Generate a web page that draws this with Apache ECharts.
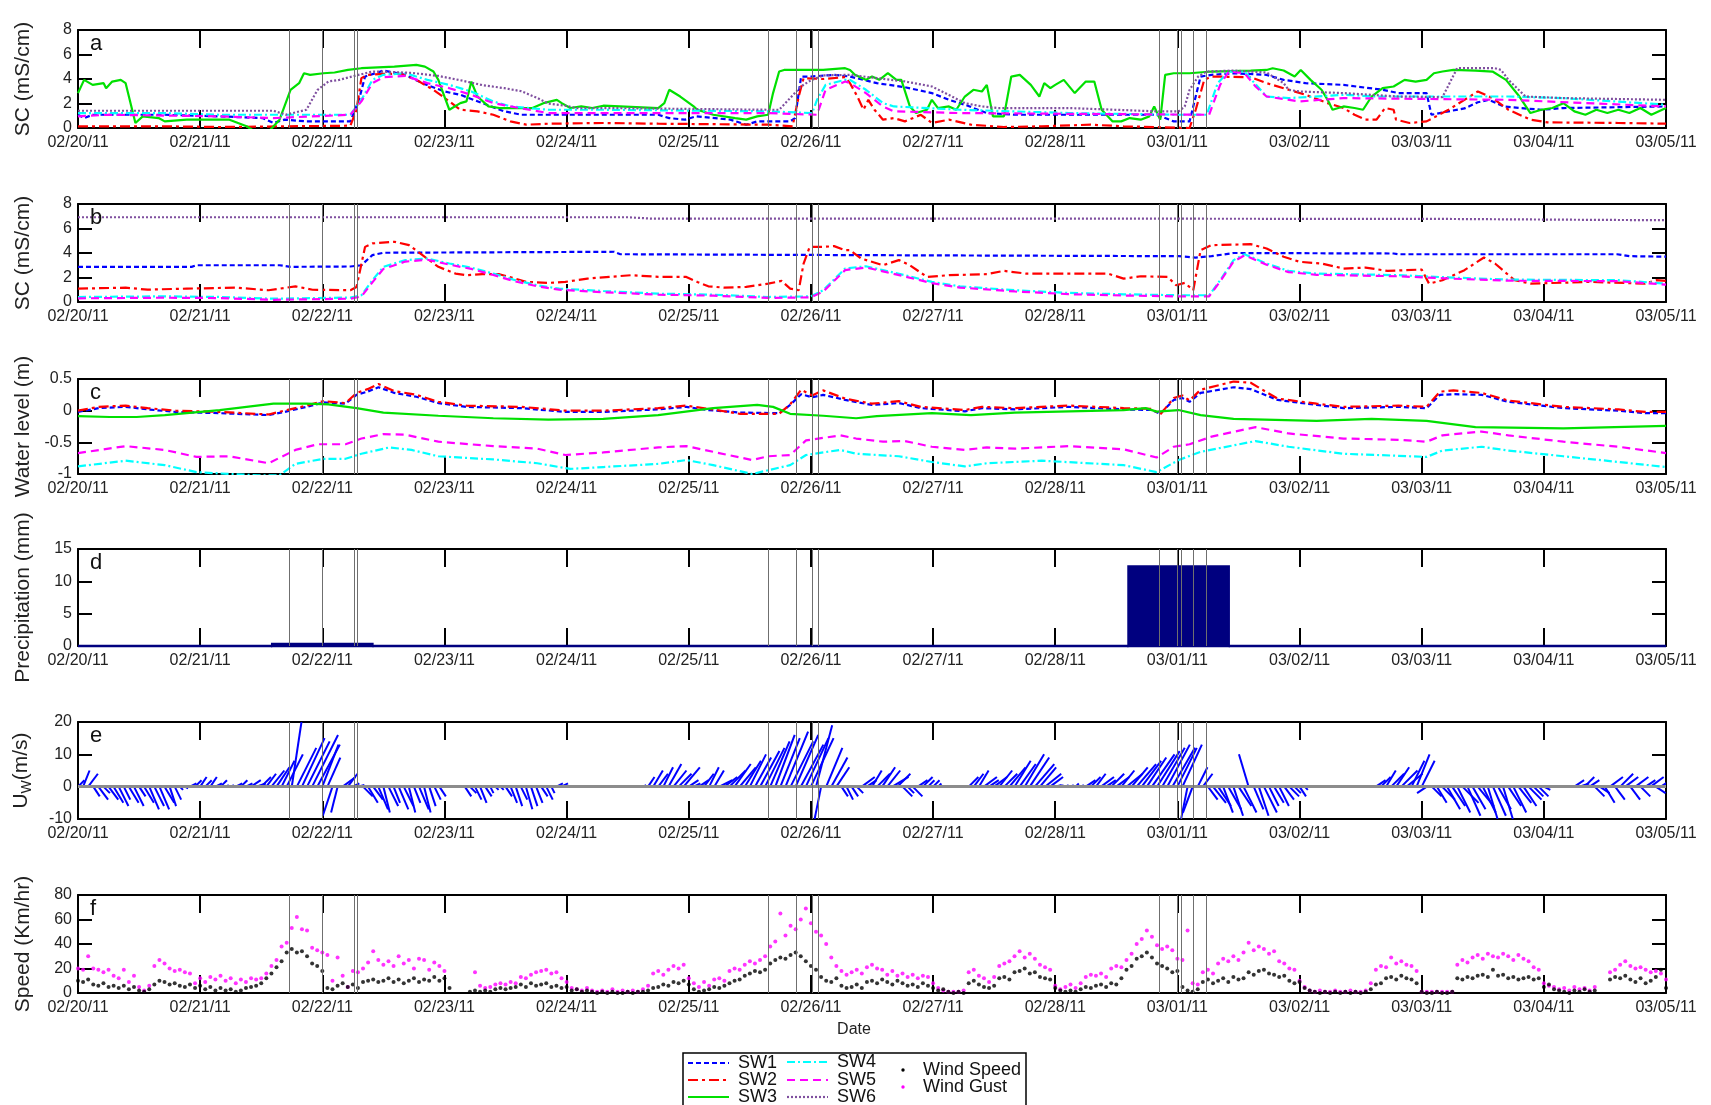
<!DOCTYPE html>
<html><head><meta charset="utf-8">
<script src="https://cdn.jsdelivr.net/npm/echarts@6/dist/echarts.min.js"></script>
<style>html,body{margin:0;padding:0;background:#fff}#c{width:1711px;height:1105px}</style>
</head><body><div id="c"></div>
<script>
// ---------- tick labels / categories ----------
const dateLabels = ['02/20/11','02/21/11','02/22/11','02/23/11','02/24/11','02/25/11','02/26/11','02/27/11','02/28/11','03/01/11','03/02/11','03/03/11','03/04/11','03/05/11'];
// event lines (days after 02/20/11 00:00)
const eventDays = [1.726,2.0,2.256,2.288,5.649,5.883,6.009,6.063,8.847,9.0,9.03,9.135,9.243];

// ---------- panel a: SC (mS/cm) ----------
const aSW1 = [[0,1.08],[0.05,0.81],[0.12,1.08],[0.71,1.08],[1.16,0.95],[1.51,0.81],[1.6,0.41],[1.69,0.68],[1.87,0.54],[2.23,0.54],[2.3,2.3],[2.35,4.2],[2.5,4.69],[2.68,4.34],[2.82,3.66],[3.0,2.98],[3.13,2.71],[3.31,2.03],[3.49,1.36],[3.63,1.08],[4.75,1.08],[4.84,0.81],[4.97,0.68],[5.06,0.95],[5.34,0.68],[5.47,0.27],[5.56,0.54],[5.83,0.54],[5.87,0.81],[5.92,4.2],[6.0,4.2],[6.19,4.34],[6.32,4.2],[6.54,3.66],[6.77,3.33],[6.99,2.85],[7.13,2.3],[7.26,1.9],[7.44,1.22],[7.67,1.08],[8.83,1.08],[8.97,0.54],[9.1,0.54],[9.19,4.2],[9.28,4.34],[9.46,4.47],[9.73,4.34],[9.87,3.93],[10.05,3.66],[10.36,3.52],[10.68,3.12],[10.81,2.85],[11.04,2.85],[11.08,1.08],[11.22,1.36],[11.35,1.6],[11.46,2.1],[11.55,2.3],[11.67,1.76],[11.8,1.63],[11.98,1.49],[12.16,1.63],[13,1.76]];
const aSW2 = [[0,0.14],[0.71,0.14],[1.16,0.08],[2.23,0.19],[2.28,1.49],[2.32,4.07],[2.37,4.34],[2.5,4.42],[2.64,4.42],[2.77,3.93],[2.91,3.12],[3.04,2.17],[3.13,1.49],[3.27,1.36],[3.4,1.08],[3.54,0.54],[3.67,0.27],[3.85,0.35],[4.3,0.41],[4.75,0.35],[5.65,0.27],[5.85,0.14],[5.9,2.57],[5.94,4.07],[6.1,4.0],[6.28,4.15],[6.32,3.66],[6.38,2.57],[6.43,1.49],[6.47,2.3],[6.52,1.49],[6.59,0.68],[6.68,0.81],[6.77,0.54],[6.9,1.08],[6.99,0.41],[7.13,0.68],[7.31,0.27],[7.58,0.08],[7.89,0.14],[8.29,0.27],[8.56,0.14],[9.1,0.0],[9.15,1.49],[9.22,3.93],[9.28,4.2],[9.6,4.15],[9.73,3.66],[9.87,3.25],[10.05,2.71],[10.23,2.03],[10.36,1.63],[10.45,1.08],[10.54,0.68],[10.63,0.68],[10.7,1.63],[10.77,1.49],[10.79,0.68],[10.9,0.41],[11.04,0.54],[11.22,1.49],[11.35,2.3],[11.46,2.98],[11.58,2.44],[11.71,1.49],[11.89,0.68],[12.03,0.46],[12.61,0.41],[13,0.35]];
const aSW3 = [[0,2.85],[0.05,3.93],[0.12,3.52],[0.21,3.66],[0.23,3.25],[0.28,3.79],[0.35,3.93],[0.39,3.66],[0.47,0.41],[0.53,0.95],[0.66,0.81],[0.71,0.54],[0.89,0.68],[1.24,0.68],[1.38,0.14],[1.45,-0.3],[1.56,-0.3],[1.65,0.68],[1.74,3.12],[1.81,3.66],[1.85,4.47],[1.9,4.34],[2.01,4.47],[2.1,4.53],[2.21,4.74],[2.32,4.88],[2.59,5.01],[2.77,5.15],[2.84,5.01],[2.91,4.61],[2.95,3.93],[3.0,2.57],[3.04,1.49],[3.13,2.03],[3.18,2.17],[3.22,3.79],[3.27,2.57],[3.36,1.76],[3.45,1.63],[3.72,1.63],[3.81,2.03],[3.92,2.3],[3.96,2.03],[4.03,1.63],[4.12,1.76],[4.21,1.63],[4.3,1.82],[4.75,1.63],[4.8,2.03],[4.84,3.12],[4.93,2.57],[5.04,1.76],[5.07,1.49],[5.2,1.08],[5.38,0.81],[5.47,0.68],[5.56,0.95],[5.65,1.08],[5.69,2.85],[5.74,4.61],[5.78,4.74],[6.1,4.74],[6.28,4.88],[6.32,4.74],[6.36,4.34],[6.45,3.93],[6.5,4.2],[6.56,3.93],[6.63,4.47],[6.7,3.93],[6.74,3.93],[6.81,1.76],[6.86,1.22],[6.95,1.49],[6.99,2.3],[7.04,1.63],[7.13,1.76],[7.19,1.49],[7.26,2.57],[7.33,3.12],[7.4,2.98],[7.44,3.52],[7.49,0.95],[7.58,0.95],[7.64,4.2],[7.71,4.34],[7.8,3.52],[7.87,2.57],[7.91,3.66],[7.96,3.25],[8.0,3.52],[8.07,3.93],[8.16,2.85],[8.25,3.79],[8.32,3.79],[8.38,1.49],[8.47,0.54],[8.54,0.54],[8.61,0.81],[8.7,0.68],[8.77,0.95],[8.81,1.76],[8.86,0.68],[8.9,4.34],[8.97,4.47],[9.1,4.47],[9.28,4.61],[9.6,4.69],[9.73,4.74],[9.78,4.88],[9.87,4.69],[9.96,4.2],[10.01,4.74],[10.09,3.93],[10.18,3.12],[10.23,2.3],[10.27,1.49],[10.36,1.76],[10.45,1.63],[10.52,1.49],[10.59,2.57],[10.68,3.25],[10.77,3.39],[10.86,3.93],[10.95,3.79],[11.04,3.93],[11.1,4.47],[11.17,4.61],[11.26,4.74],[11.44,4.69],[11.58,4.61],[11.69,3.93],[11.8,2.57],[11.89,1.22],[11.98,1.49],[12.07,1.63],[12.16,2.03],[12.25,1.36],[12.34,1.08],[12.43,1.49],[12.52,1.22],[12.61,1.49],[12.7,1.22],[12.79,1.63],[12.88,1.08],[13,1.63]];
const aSW4 = [[0,1.22],[0.71,1.22],[1.16,1.08],[2.23,1.08],[2.32,2.3],[2.41,3.93],[2.5,4.34],[2.68,4.47],[2.86,3.93],[3.04,3.52],[3.22,2.98],[3.4,2.17],[3.54,1.76],[3.85,1.49],[4.3,1.49],[5.65,1.36],[6.01,1.22],[6.05,2.3],[6.12,3.52],[6.28,3.93],[6.32,3.93],[6.45,3.12],[6.59,2.03],[6.68,1.76],[7.22,1.49],[8.11,1.22],[9.01,1.08],[9.24,1.08],[9.33,3.66],[9.42,4.61],[9.55,4.61],[9.62,3.79],[9.73,2.57],[9.91,2.44],[10.36,2.71],[10.63,2.57],[11.71,2.57],[12.16,2.44],[13,1.9]];
const aSW5 = [[0,0.95],[0.25,1.08],[1.16,0.95],[1.6,0.81],[2.23,1.08],[2.32,2.17],[2.41,3.66],[2.5,4.15],[2.68,4.25],[2.86,3.66],[3.04,3.25],[3.22,2.71],[3.4,2.03],[3.54,1.76],[3.85,1.22],[5.65,1.22],[6.05,1.08],[6.12,3.12],[6.28,3.79],[6.32,3.66],[6.45,2.85],[6.59,1.76],[6.68,1.36],[7.22,1.22],[9.26,1.08],[9.35,3.52],[9.42,4.61],[9.55,4.47],[9.64,3.39],[9.73,2.57],[10.0,2.17],[10.36,2.44],[11.71,2.3],[13,1.76]];
const aSW6 = [[0,1.41],[1.6,1.41],[1.7,1.08],[1.87,1.49],[1.96,3.1],[2.05,3.8],[2.14,3.93],[2.28,4.3],[2.41,4.6],[2.5,4.6],[2.73,4.5],[2.95,4.25],[3.13,3.9],[3.31,3.5],[3.49,3.25],[3.63,3.0],[3.76,2.45],[3.85,2.0],[3.99,1.82],[4.08,1.63],[4.3,1.63],[5.65,1.49],[5.74,1.49],[5.92,3.4],[6.0,3.9],[6.1,4.3],[6.32,4.34],[6.54,4.07],[6.77,3.8],[6.99,3.39],[7.13,2.7],[7.26,2.03],[7.4,1.76],[7.53,1.63],[8.11,1.63],[8.83,1.36],[9.01,1.36],[9.06,1.76],[9.1,3.12],[9.17,4.2],[9.24,4.61],[9.46,4.69],[9.73,4.53],[9.87,3.66],[9.91,3.12],[10.0,2.98],[10.36,2.85],[10.81,2.57],[11.17,2.52],[11.22,3.5],[11.29,4.88],[11.6,4.88],[11.65,4.74],[11.71,3.93],[11.85,2.57],[12.16,2.44],[13,2.3]];

// ---------- panel b: SC (mS/cm) ----------
const bSW1 = [[0,2.87],[0.93,2.87],[0.97,3.0],[1.65,3.0],[1.74,2.87],[2.23,2.9],[2.32,3.0],[2.41,3.83],[2.5,4.02],[4.39,4.1],[4.44,3.9],[6.28,3.83],[9.01,3.74],[9.15,3.63],[9.28,3.74],[9.46,4.0],[10.77,3.96],[10.81,3.9],[12.6,3.9],[12.7,3.74],[13,3.7]];
const bSW2 = [[0,1.09],[0.39,1.17],[0.57,1.01],[0.89,1.09],[1.29,1.17],[1.56,0.96],[1.78,1.28],[1.92,1.0],[2.23,0.96],[2.28,1.23],[2.35,4.5],[2.41,4.78],[2.59,4.92],[2.71,4.64],[2.82,3.83],[2.95,2.87],[3.09,2.32],[3.18,2.19],[3.31,2.27],[3.45,2.27],[3.58,1.91],[3.67,1.64],[3.85,1.56],[3.99,1.64],[4.17,1.91],[4.35,2.05],[4.53,2.19],[4.75,2.05],[4.98,2.05],[5.07,1.64],[5.16,1.28],[5.29,1.17],[5.47,1.23],[5.65,1.5],[5.76,1.72],[5.83,1.09],[5.9,0.96],[5.94,3.14],[5.99,4.5],[6.1,4.5],[6.19,4.56],[6.28,4.23],[6.32,4.23],[6.41,3.55],[6.59,3.0],[6.72,3.42],[6.81,3.0],[6.95,2.05],[7.13,2.19],[7.44,2.27],[7.58,2.54],[7.76,2.32],[8.43,2.32],[8.56,1.91],[8.7,2.1],[8.92,2.05],[8.99,1.37],[9.06,1.56],[9.13,0.96],[9.19,4.23],[9.28,4.64],[9.6,4.72],[9.73,4.37],[9.87,3.69],[10.0,3.28],[10.18,3.14],[10.36,2.73],[10.54,2.81],[10.72,2.54],[11.0,2.65],[11.06,1.5],[11.17,1.78],[11.35,2.6],[11.51,3.63],[11.6,3.14],[11.76,1.78],[11.89,1.5],[12.38,1.64],[12.83,1.5],[12.92,1.78],[13,1.72]];
const bSW4 = [[0,0.41],[0.71,0.46],[1.16,0.41],[1.6,0.27],[2.23,0.36],[2.32,0.55],[2.41,1.78],[2.5,2.87],[2.68,3.42],[2.86,3.55],[3.04,3.14],[3.22,2.81],[3.4,2.32],[3.58,1.78],[3.76,1.37],[3.94,1.09],[4.3,0.9],[4.75,0.68],[5.2,0.6],[5.65,0.41],[6.0,0.46],[6.1,0.96],[6.28,2.73],[6.45,2.92],[6.59,2.6],[6.77,2.19],[6.99,1.64],[7.22,1.28],[7.67,0.96],[8.11,0.74],[8.56,0.63],[9.01,0.55],[9.26,0.55],[9.35,1.78],[9.46,3.42],[9.55,3.9],[9.73,3.14],[9.91,2.54],[10.14,2.32],[10.81,2.19],[11.26,1.99],[11.71,1.83],[12.61,1.78],[13,1.5]];
const bSW5 = [[0,0.3],[0.71,0.35],[1.16,0.32],[1.6,0.18],[2.23,0.27],[2.32,0.45],[2.41,1.6],[2.5,2.7],[2.68,3.3],[2.86,3.45],[3.04,3.05],[3.22,2.7],[3.4,2.2],[3.58,1.68],[3.76,1.28],[3.94,1.0],[4.3,0.8],[4.75,0.6],[5.2,0.52],[5.65,0.33],[6.0,0.38],[6.1,0.85],[6.28,2.6],[6.45,2.82],[6.59,2.5],[6.77,2.08],[6.99,1.54],[7.22,1.18],[7.67,0.86],[8.11,0.64],[8.56,0.53],[9.01,0.46],[9.26,0.46],[9.35,1.68],[9.46,3.3],[9.55,3.82],[9.73,3.05],[9.91,2.44],[10.14,2.22],[10.81,2.1],[11.26,1.9],[11.71,1.74],[12.61,1.7],[13,1.42]];
const bSW6 = [[0,6.92],[4.5,6.92],[4.7,6.8],[9.0,6.8],[11.2,6.78],[12.5,6.7],[13,6.68]];

// ---------- panel c: water level (m) ----------
const cSW1 = [[0,-0.02],[0.17,0.04],[0.39,0.06],[0.57,0.02],[0.8,-0.02],[1.16,-0.04],[1.56,-0.07],[1.69,-0.02],[1.87,0.06],[2.01,0.13],[2.19,0.11],[2.28,0.25],[2.37,0.3],[2.46,0.37],[2.59,0.28],[2.77,0.22],[2.95,0.12],[3.18,0.06],[3.63,0.04],[3.99,-0.02],[4.3,-0.02],[4.75,0.02],[4.98,0.06],[5.16,0.01],[5.42,-0.03],[5.74,-0.04],[5.83,0.09],[5.92,0.26],[6.01,0.21],[6.1,0.25],[6.28,0.17],[6.5,0.09],[6.72,0.12],[6.9,0.04],[7.26,-0.01],[7.4,0.04],[7.67,0.02],[8.11,0.06],[8.56,0.02],[8.79,0.01],[8.86,-0.05],[8.97,0.17],[9.04,0.2],[9.1,0.14],[9.19,0.28],[9.46,0.37],[9.6,0.34],[9.82,0.17],[10.14,0.09],[10.36,0.04],[10.81,0.06],[11.04,0.04],[11.15,0.25],[11.26,0.26],[11.49,0.25],[11.71,0.14],[12.16,0.04],[12.61,0.0],[12.83,-0.04],[13,-0.04]];
const cSW2 = [[0,0.0],[0.17,0.06],[0.39,0.08],[0.57,0.04],[0.8,0.0],[1.16,-0.02],[1.56,-0.06],[1.69,0.0],[1.87,0.08],[2.01,0.15],[2.19,0.12],[2.28,0.28],[2.37,0.34],[2.46,0.42],[2.59,0.31],[2.77,0.25],[2.95,0.14],[3.18,0.08],[3.63,0.06],[3.99,0.0],[4.3,0.0],[4.75,0.04],[4.98,0.08],[5.16,0.03],[5.42,-0.05],[5.74,-0.05],[5.83,0.1],[5.92,0.33],[6.01,0.24],[6.1,0.32],[6.28,0.19],[6.5,0.11],[6.72,0.15],[6.9,0.06],[7.26,0.01],[7.4,0.06],[7.67,0.04],[8.11,0.08],[8.56,0.04],[8.79,0.03],[8.86,-0.06],[8.97,0.2],[9.04,0.24],[9.1,0.16],[9.19,0.33],[9.46,0.46],[9.6,0.44],[9.82,0.19],[10.14,0.11],[10.36,0.06],[10.81,0.08],[11.04,0.06],[11.15,0.3],[11.26,0.32],[11.49,0.28],[11.71,0.16],[12.16,0.06],[12.61,0.02],[12.83,-0.02],[13,-0.02]];
const cSW3 = [[0,-0.085],[0.26,-0.1],[0.48,-0.1],[0.71,-0.07],[1.16,0.01],[1.6,0.11],[1.87,0.11],[2.05,0.1],[2.28,0.04],[2.5,-0.03],[2.95,-0.08],[3.4,-0.12],[3.85,-0.14],[4.3,-0.13],[4.75,-0.07],[5.2,0.04],[5.56,0.09],[5.69,0.06],[5.83,-0.05],[6.1,-0.08],[6.37,-0.12],[6.54,-0.085],[6.99,-0.04],[7.31,-0.07],[7.67,-0.03],[8.56,0.01],[8.74,0.04],[8.83,-0.015],[9.01,0.01],[9.19,-0.07],[9.46,-0.13],[10.14,-0.16],[10.59,-0.13],[11.04,-0.16],[11.44,-0.26],[12.16,-0.28],[13,-0.24]];
const cSW4 = [[0,-0.88],[0.39,-0.79],[0.71,-0.86],[0.97,-0.97],[1.24,-1.0],[1.47,-1.02],[1.65,-1.02],[1.78,-0.84],[2.01,-0.76],[2.19,-0.76],[2.32,-0.68],[2.55,-0.58],[2.73,-0.62],[2.95,-0.72],[3.4,-0.77],[3.76,-0.83],[4.03,-0.92],[4.3,-0.89],[4.75,-0.84],[4.98,-0.78],[5.2,-0.86],[5.52,-1.0],[5.65,-0.94],[5.83,-0.86],[5.96,-0.7],[6.24,-0.62],[6.37,-0.68],[6.72,-0.72],[6.99,-0.81],[7.26,-0.88],[7.44,-0.83],[7.89,-0.79],[8.56,-0.86],[8.83,-0.97],[9.01,-0.78],[9.19,-0.65],[9.64,-0.48],[9.91,-0.57],[10.36,-0.68],[11.04,-0.73],[11.17,-0.63],[11.49,-0.57],[11.71,-0.63],[12.16,-0.72],[12.61,-0.81],[13,-0.89]];
const cSW5 = [[0,-0.67],[0.39,-0.56],[0.71,-0.62],[0.97,-0.73],[1.24,-0.72],[1.56,-0.83],[1.78,-0.62],[1.96,-0.53],[2.19,-0.53],[2.32,-0.44],[2.5,-0.37],[2.68,-0.38],[2.95,-0.49],[3.4,-0.56],[3.76,-0.6],[3.99,-0.7],[4.3,-0.66],[4.75,-0.58],[4.98,-0.56],[5.2,-0.65],[5.52,-0.78],[5.65,-0.72],[5.83,-0.7],[5.96,-0.47],[6.24,-0.39],[6.37,-0.44],[6.59,-0.49],[6.77,-0.48],[6.99,-0.57],[7.26,-0.62],[7.44,-0.58],[7.67,-0.6],[8.11,-0.56],[8.56,-0.61],[8.83,-0.74],[8.97,-0.57],[9.1,-0.53],[9.28,-0.41],[9.64,-0.26],[9.91,-0.36],[10.36,-0.44],[10.81,-0.46],[11.04,-0.49],[11.17,-0.39],[11.49,-0.33],[11.71,-0.39],[12.16,-0.49],[12.61,-0.57],[13,-0.67]];

// ---------- panel d: precipitation (mm) ----------
const precipStart = [0, 1.59, 2.41, 8.6, 9.42];
const precipEnd   = [1.59, 2.41, 8.6, 9.42, 13];
const precipValue = [0, 0.3, 0, 12.3, 0];

// ---------- panel e: hourly wind sticks (m/s): northward V, eastward U ----------
const windV = [
 2,5,4,-3,-4,-2,-4,-5,-6,-4,-5,-6,-3,-5,-7,-6,-7,-5,-6,-4,-1,-0.5,1,2,
 3,2,3,1,2,0.5,0.5,1,2,1,2,1,3,4,5,6,8,10,20,12,15,14,16,13,
 13,9,-9,-8,3,4,1,0.5,-3,-5,-4,-7,-8,-6,-5,-7,-6,-8,-5,-7,-8,-6,-4,-3,
 0,0,0,0,-3,-2,-4,-5,-3,-2,-1,-1,-3,-5,-6,-4,-7,-6,-5,-3,-4,-2,1,1,
 0,0,0,0,0,0,0,0,0,0,0,0,0,0,0,0.5,3,5,4,6,7,5,4,6,
 2,1,2,4,6,5,2,3,5,7,6,8,10,9,11,12,14,16,15,17,14,16,13,15,
 15,19,-10,12,9,6,-3,-4,-3,-2,3,2,5,4,6,5,3,4,-3,-2,-3,2,3,2,
 2,1,0,0,0,0,0,3,4,5,3,2,3,5,4,6,8,7,10,9,7,6,4,3,
 0.5,0.5,0.5,0.5,1,0.5,2,3,4,3,2,4,3,5,4,6,7,8,9,10,11,12,13,12,
 12,13,-10,-8,6,4,-4,-5,-6,-8,-7,-9,-6,-8,10,-7,-9,-8,-6,-5,-6,-4,-3,-2,
 -3,-1,0,0,0,0,0,0,0,0,0,0,0,0,0,2,3,5,4,6,5,4,8,10,
 8,-2,-3,-5,-4,-7,-6,-8,-5,-9,-7,-6,-8,-10,-9,-7,-10,-6,-8,-5,-6,-4,-3,-3,
 -1,0,0,0,0,0,2,1,3,2,-3,-2,-5,3,-4,4,3,-4,3,-3,2,3,-2,2,
 0];
const windU = [
 2,2,3,2,3,2,3,3,3,2,3,3,2,3,3,3,3,3,2,2,1,1,2,2,
 2,2,2,2,2,1,1,2,2,2,3,3,3,3,4,4,4,5,3,6,7,7,8,7,
 5,4,-3,-2,4,3,2,2,3,3,3,3,2,3,2,3,3,2,2,3,2,2,2,2,
 0,0,0,0,2,2,2,2,2,1,1,1,2,2,2,2,2,2,2,2,2,1,2,2,
 0,0,0,0,0,0,0,0,0,0,0,0,0,0,0,1,2,3,3,3,4,4,4,5,
 3,2,3,3,3,3,4,4,5,5,5,5,5,5,6,6,6,6,6,7,7,7,7,7,
 7,5,-2,5,5,4,2,2,2,2,4,3,3,4,4,4,5,4,3,2,3,3,3,2,
 2,1,0,0,0,0,0,3,3,3,4,3,4,4,4,5,5,5,6,6,6,5,5,4,
 2,1,1,1,1,1,3,3,3,4,3,4,4,4,5,5,6,6,6,7,7,7,7,7,
 6,6,-2,-3,3,3,3,4,4,3,4,3,4,4,-3,3,3,4,3,3,3,3,3,2,
 2,1,0,0,0,0,0,0,0,0,0,0,0,0,0,3,3,3,4,4,5,5,4,4,
 4,-3,3,3,4,4,4,4,5,4,4,5,4,3,4,4,3,4,4,4,4,4,3,3,
 2,0,0,0,0,0,3,3,3,3,3,3,3,4,3,4,4,3,4,3,3,4,3,3,
 0];

// ---------- panel f: hourly wind speed / gust (km/h) ----------
const windSpeed = [
 10,9,11,7,6,8,5,6,4,6,3,5,2,1,3,7,10,9,7,8,6,5,7,4,
 6,3,5,2,4,2,3,1,2,4,5,6,8,12,16,21,26,33,36,33,34,30,24,22,
 18,4,3,6,8,5,7,4,9,10,11,9,10,12,9,11,8,10,12,9,11,10,13,10,
 12,4,null,null,null,1,2,1,2,1,3,4,3,4,5,7,5,8,6,7,8,5,6,4,
 5,2,3,1,2,1,0,1,0,1,0,0,1,0,1,1,2,4,5,7,6,9,8,10,
 7,3,1,2,3,5,4,6,8,10,11,14,16,18,17,19,24,27,29,28,31,33,30,26,
 22,19,13,10,9,12,6,4,5,7,4,9,10,8,11,9,7,10,8,6,7,5,8,6,
 4,2,3,1,0,1,0,8,10,7,5,4,6,12,13,11,17,18,20,16,17,13,12,11,
 4,2,1,2,1,3,5,4,6,7,5,8,7,12,19,22,28,30,33,29,24,22,20,17,
 18,5,2,1,3,9,11,8,10,12,9,13,11,12,17,15,18,19,16,15,13,14,10,8,
 9,4,2,1,0,1,0,1,0,1,0,1,0,1,3,7,8,12,13,11,14,12,11,8,
 1,0,0,1,0,0,1,12,11,13,12,14,15,13,19,14,15,12,13,11,12,13,11,12,
 5,7,3,2,1,0,2,1,3,1,2,null,null,11,13,12,14,11,9,12,8,10,13,19,
 4];
const windGust = [
 20,19,30,20,19,17,19,14,12,19,9,14,5,2,6,22,27,24,20,18,19,17,16,8,
 12,9,13,11,14,10,12,8,11,9,12,11,12,16,22,27,38,41,53,62,52,51,37,35,
 33,31,10,29,14,5,18,17,20,25,34,27,23,26,22,30,24,27,20,28,27,19,25,22,
 18,null,null,null,null,null,17,6,4,5,7,8,7,9,8,13,12,15,17,18,19,16,17,12,
 9,4,3,2,4,2,1,2,1,3,1,2,1,2,1,3,6,16,18,15,19,22,20,23,
 12,8,5,9,6,11,12,10,18,20,19,23,26,24,27,30,38,42,65,47,55,52,60,69,
 57,50,47,40,29,22,18,15,17,19,16,21,23,20,19,15,18,14,16,13,15,12,14,13,
 8,4,2,1,1,1,2,17,19,14,12,9,13,22,24,26,30,34,29,32,28,23,21,19,
 6,3,5,7,4,8,13,15,14,16,13,20,22,21,27,32,40,44,51,46,39,36,38,35,
 28,27,51,8,7,17,19,16,24,28,26,30,27,33,41,35,38,36,32,34,26,24,20,19,
 10,5,2,1,2,1,1,2,1,1,2,1,1,2,8,19,22,21,29,24,26,23,22,18,
 1,1,1,1,1,1,1,23,27,25,29,31,28,32,30,29,32,30,27,31,28,26,21,19,
 8,6,5,3,4,2,5,3,4,2,5,null,null,17,19,23,26,22,20,21,19,17,18,16,
 11];

// ================= build chart =================
const FONT = '"Liberation Sans", Arial, sans-serif';
const gridTops = [30, 204, 379, 549, 722, 895];
const gridHeights = [98, 98, 95, 97, 97, 98];
const yCfg = [
  {min:0, max:8, interval:2, name:'SC (mS/cm)'},
  {min:0, max:8, interval:2, name:'SC (mS/cm)'},
  {min:-1, max:0.5, interval:0.5, name:'Water level (m)'},
  {min:0, max:15, interval:5, name:'Precipitation (mm)'},
  {min:-10, max:20, interval:10, name:'{u|U}{w|W}{u|(m/s)}'},
  {min:0, max:80, interval:20, name:'Speed (Km/hr)'}
];
const letters = ['a','b','c','d','e','f'];
const grids = [], xAxes = [], yAxes = [], titles = [];
for (let i = 0; i < 6; i++) {
  grids.push({left:78, right:45, top:gridTops[i], height:gridHeights[i]});
  const xb = () => ({gridIndex:i, type:'value', min:0, max:13, interval:1,
    splitLine:{show:false},
    axisLine:{show:true, onZero:false, lineStyle:{color:'#000', width:2}},
    axisTick:{show:true, inside:true, length:18, lineStyle:{color:'#000', width:2}}});
  const xBottom = Object.assign(xb(), {position:'bottom',
    axisLabel:{margin:7, fontSize:16, fontFamily:FONT, color:'#222', formatter:v => dateLabels[Math.round(v)] || ''}});
  if (i === 5) Object.assign(xBottom, {name:'Date', nameLocation:'middle', nameGap:29,
    nameTextStyle:{fontSize:16, fontFamily:FONT, color:'#222', padding:[0,36,0,0]}});
  xAxes.push(xBottom);
  xAxes.push(Object.assign(xb(), {position:'top', axisLabel:{show:false}}));
  const yb = () => ({gridIndex:i, type:'value', min:yCfg[i].min, max:yCfg[i].max, interval:yCfg[i].interval,
    splitLine:{show:false},
    axisLine:{show:true, onZero:false, lineStyle:{color:'#000', width:2}},
    axisTick:{show:true, inside:true, length:14, lineStyle:{color:'#000', width:2}}});
  yAxes.push(Object.assign(yb(), {position:'left',
    axisLabel:{margin:6, fontSize:16, fontFamily:FONT, color:'#222'},
    name:yCfg[i].name, nameLocation:'middle', nameGap:44, nameRotate:90,
    nameTextStyle:{fontSize:21, fontFamily:FONT, color:'#222',
      rich:{u:{fontSize:21, fontFamily:FONT, color:'#222'}, w:{fontSize:14, fontFamily:FONT, color:'#222', padding:[12,0,0,0]}}}}));
  yAxes.push(Object.assign(yb(), {position:'right', axisLabel:{show:false}}));
  titles.push({text:letters[i], left:90, top:gridTops[i] + 3, padding:0,
    textStyle:{fontSize:22, fontWeight:'normal', fontFamily:FONT, color:'#111'}});
}

const eventMark = () => ({silent:true, symbol:['none','none'], label:{show:false}, animation:false,
  lineStyle:{color:'#6f6f6f', width:1, type:'solid'}, emphasis:{disabled:true},
  data: eventDays.map(d => ({xAxis:d}))});

const swStyle = {
  SW1:{color:'#0000ff', type:[5,3]},
  SW2:{color:'#ff0000', type:[10,4,3,4]},
  SW3:{color:'#00e000', type:'solid'},
  SW4:{color:'#00ffff', type:[8,3,2,3]},
  SW5:{color:'#ff00ff', type:[8,5]},
  SW6:{color:'#7f4f9f', type:[2,2]}
};
function lineSeries(name, data, panel, withEvents) {
  const s = swStyle[name];
  const o = {name, type:'line', data, xAxisIndex:2*panel, yAxisIndex:2*panel, symbol:'none', showSymbol:false,
    itemStyle:{color:s.color}, lineStyle:{color:s.color, width:2.2, type:s.type}, clip:true, silent:true, z:3};
  if (withEvents) o.markLine = eventMark();
  return o;
}

const series = [];
series.push(lineSeries('SW1', aSW1, 0, true));
series.push(lineSeries('SW2', aSW2, 0));
series.push(lineSeries('SW3', aSW3, 0));
series.push(lineSeries('SW4', aSW4, 0));
series.push(lineSeries('SW5', aSW5, 0));
series.push(lineSeries('SW6', aSW6, 0));
series.push(lineSeries('SW1', bSW1, 1, true));
series.push(lineSeries('SW2', bSW2, 1));
series.push(lineSeries('SW4', bSW4, 1));
series.push(lineSeries('SW5', bSW5, 1));
series.push(lineSeries('SW6', bSW6, 1));
series.push(lineSeries('SW1', cSW1, 2, true));
series.push(lineSeries('SW2', cSW2, 2));
series.push(lineSeries('SW3', cSW3, 2));
series.push(lineSeries('SW4', cSW4, 2));
series.push(lineSeries('SW5', cSW5, 2));
// panel d
series.push({type:'custom', name:'Precipitation', xAxisIndex:6, yAxisIndex:6, silent:true, z:2,
  data: precipStart.map((s, k) => [s, precipEnd[k], precipValue[k]]),
  encode:{x:[0,1], y:2},
  renderItem:(params, api) => {
    const p0 = api.coord([api.value(0), api.value(2)]);
    const p1 = api.coord([api.value(1), 0]);
    return {type:'rect', shape:{x:p0[0], y:p0[1], width:p1[0]-p0[0], height:p1[1]-p0[1]},
      style:{fill:'#00007f', stroke:'#00007f', lineWidth:2.5}};
  },
  markLine: eventMark()});
// panel e
const em = eventMark();
em.data = [{yAxis:0, lineStyle:{color:'#8c8c8c', width:3}}].concat(em.data);
series.push({type:'custom', name:'Wind', xAxisIndex:8, yAxisIndex:8, silent:true, clip:true, z:3,
  data: windV.map((v, k) => [k/24, windU[k], v]),
  encode:{x:0, y:2},
  renderItem:(params, api) => {
    const t = api.value(0);
    const p0 = api.coord([t, 0]);
    const p1 = api.coord([t, api.value(2)]);
    const pxPer = p0[1] - api.coord([t, 1])[1];
    return {type:'line', shape:{x1:p0[0], y1:p0[1], x2:p1[0] + api.value(1)*pxPer, y2:p1[1]},
      style:{stroke:'#0000ff', lineWidth:2}};
  },
  markLine: em});
// panel f
series.push({type:'scatter', name:'Wind Speed', xAxisIndex:10, yAxisIndex:10, symbol:'circle', symbolSize:4, silent:true, z:4,
  itemStyle:{color:'#000'},
  data: windSpeed.map((v, k) => v === null ? null : [k/24, v]).filter(p => p),
  markLine: eventMark()});
series.push({type:'scatter', name:'Wind Gust', xAxisIndex:10, yAxisIndex:10, symbol:'circle', symbolSize:4, silent:true, z:3,
  itemStyle:{color:'#ff00ff'},
  data: windGust.map((v, k) => v === null ? null : [k/24, v]).filter(p => p)});

// ---------- legend (drawn as graphic elements) ----------
const legendCols = [
  {x:688, names:['SW1','SW2','SW3'], ys:[1063,1080,1097]},
  {x:787, names:['SW4','SW5','SW6'], ys:[1062,1080,1097]}
];
const graphic = [{type:'rect', z:10, shape:{x:683, y:1053, width:343, height:56},
  style:{fill:'#fff', stroke:'#000', lineWidth:1.5}}];
legendCols.forEach(col => col.names.forEach((n, k) => {
  const s = swStyle[n];
  graphic.push({type:'line', z:11, shape:{x1:col.x, y1:col.ys[k], x2:col.x + 41, y2:col.ys[k]},
    style:{stroke:s.color, lineWidth:2.2, lineDash: s.type === 'solid' ? null : s.type}});
  graphic.push({type:'text', z:11, x:col.x + 50, y:col.ys[k],
    style:{text:n, fontSize:18, fontFamily:FONT, fill:'#111', verticalAlign:'middle', align:'left'}});
}));
[['Wind Speed','#000',1070],['Wind Gust','#ff00ff',1087]].forEach(([n, c, y]) => {
  graphic.push({type:'circle', z:11, shape:{cx:903, cy:y, r:1.7}, style:{fill:c}});
  graphic.push({type:'text', z:11, x:923, y:y,
    style:{text:n, fontSize:18, fontFamily:FONT, fill:'#111', verticalAlign:'middle', align:'left'}});
});

const option = {
  animation:false,
  backgroundColor:'#fff',
  title: titles,
  grid: grids, xAxis: xAxes, yAxis: yAxes,
  graphic,
  series
};
const chart = echarts.init(document.getElementById('c'), null, {renderer:'canvas'});
chart.setOption(option);
</script></body></html>
